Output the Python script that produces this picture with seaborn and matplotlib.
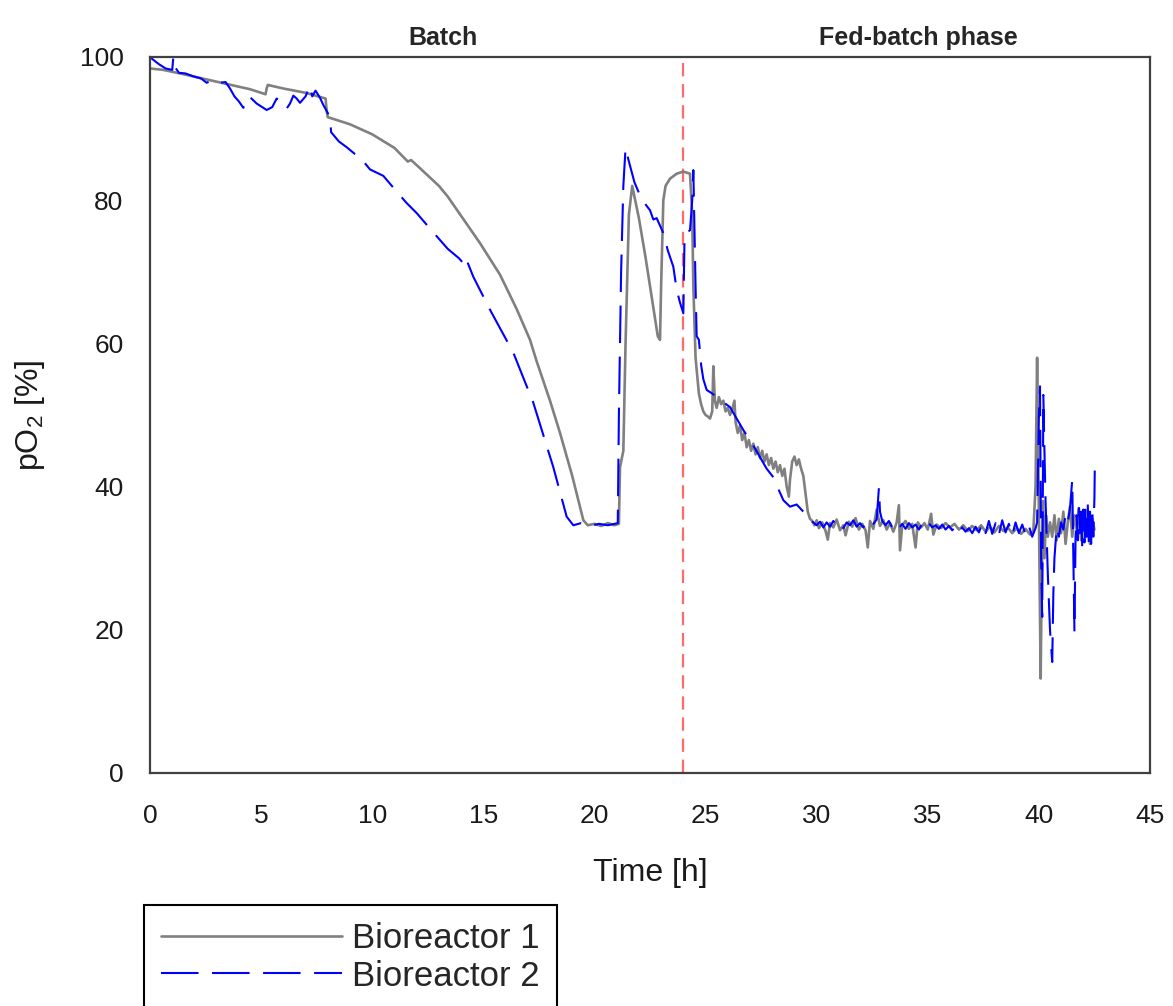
import matplotlib
matplotlib.use("Agg")
import matplotlib.pyplot as plt
import seaborn as sns
import pandas as pd

# ---- Bioreactor 1 (pO2 in %, time in h) ----
time_br1 = [
    0.0, 0.6, 1.5, 2.5, 3.5, 4.5, 5.2, 5.25, 5.3, 6.0, 7.0, 7.9, 7.95, 8.0,
    9.0, 10.0, 11.0, 11.6, 11.75, 12.0, 13.0, 13.4, 14.0, 14.85, 15.75, 16.5,
    17.1, 17.4, 18.0, 18.45, 19.0, 19.5, 19.7, 20.0, 20.3, 20.6, 20.9, 21.1,
    21.15, 21.3, 21.4, 21.55, 21.7, 22.0, 22.3, 22.6, 22.85, 22.95, 23.0, 23.1,
    23.2, 23.4, 23.7, 24.0, 24.3, 24.4, 24.45, 24.55, 24.7, 24.8, 24.9, 25.0,
    25.1, 25.2, 25.3, 25.35, 25.42, 25.5, 25.6, 25.7, 25.8, 25.9, 26.0, 26.1,
    26.2, 26.3, 26.35, 26.45, 26.55, 26.65, 26.75, 26.85, 26.95, 27.05, 27.15,
    27.25, 27.35, 27.45, 27.55, 27.65, 27.75, 27.85, 27.95, 28.05, 28.15,
    28.25, 28.35, 28.45, 28.55, 28.65, 28.75, 28.8, 28.9, 29.0, 29.1, 29.2,
    29.3, 29.4, 29.5, 29.6, 29.7, 29.8, 29.9, 30.0, 30.1, 30.25, 30.4, 30.5,
    30.6, 30.75, 30.9, 31.05, 31.2, 31.3, 31.45, 31.6, 31.75, 31.9, 32.05,
    32.2, 32.3, 32.4, 32.55, 32.7, 32.85, 33.0, 33.15, 33.3, 33.45, 33.6,
    33.7, 33.75, 33.85, 34.0, 34.15, 34.3, 34.45, 34.55, 34.7, 34.85, 35.0,
    35.15, 35.25, 35.4, 35.6, 35.8, 36.0, 36.2, 36.4, 36.6, 36.8, 37.0, 37.2,
    37.4, 37.6, 37.8, 38.0, 38.2, 38.4, 38.6, 38.8, 39.0, 39.2, 39.4, 39.6,
    39.75, 39.85, 39.92, 39.97, 40.02, 40.08, 40.12, 40.18, 40.25, 40.32,
    40.4, 40.5, 40.6, 40.7, 40.8, 40.9, 41.0, 41.1, 41.2, 41.3, 41.4, 41.5,
    41.6, 41.7, 41.8, 41.9, 42.0, 42.1, 42.2, 42.3, 42.4, 42.5,
]
po2_br1 = [
    98.4, 98.2, 97.6, 96.9, 96.2, 95.5, 94.8, 95.6, 96.1, 95.6, 95.0, 94.2, 92.5, 91.6,
    90.6, 89.2, 87.3, 85.4, 85.6, 84.9, 82.0, 80.5, 77.8, 74.0, 69.6, 64.8,
    60.5, 57.5, 52.0, 47.5, 41.5, 35.3, 34.6, 34.8, 34.5, 34.9, 34.6, 34.8,
    42.7, 45.0, 60.0, 78.0, 82.0, 77.5, 72.0, 66.0, 61.0, 60.5, 68.0, 80.0,
    82.0, 83.0, 83.7, 84.0, 83.7, 78.0, 68.0, 58.0, 53.0, 51.5, 50.5, 50.0,
    49.8, 49.5, 50.5, 56.8, 52.0, 51.0, 52.5, 51.5, 52.0, 50.5, 51.0, 50.0,
    50.8, 52.0, 49.0, 47.5, 48.5, 46.5, 47.5, 45.5, 46.5, 45.0, 46.0,
    44.5, 45.5, 44.0, 45.0, 43.5, 44.5, 43.0, 44.0, 42.5, 43.5,
    42.0, 43.0, 41.5, 42.5, 40.0, 38.6, 41.0, 43.5, 44.2, 43.0, 43.8,
    42.5, 41.5, 39.0, 36.5, 35.5, 35.2, 34.6, 35.3, 34.2, 35.0, 33.8, 32.6,
    34.9, 34.3, 35.4, 33.9, 34.6, 33.2, 35.1, 34.4, 35.6, 34.0, 34.8,
    33.9, 31.5, 35.2, 34.1, 36.8, 34.5, 35.3, 34.0, 34.9, 33.7, 35.0,
    37.4, 31.1, 34.6, 35.2, 34.1, 34.8, 31.5, 35.0, 34.3, 34.9, 34.0,
    36.2, 33.3, 34.7, 34.2, 34.9, 34.3, 34.8, 34.0, 34.6, 33.8, 34.5, 33.9,
    34.6, 33.7, 34.4, 33.6, 34.5, 33.8, 34.3, 33.5, 34.2, 33.4, 34.1, 33.3,
    33.8, 40.0, 58.0, 45.0, 30.0, 13.2, 25.0, 38.0, 30.0, 36.0,
    33.0, 35.0, 33.0, 36.0, 32.5, 35.5, 33.5, 36.5, 32.0, 35.0, 37.2, 33.0,
    36.0, 34.0, 37.0, 32.5, 35.5, 33.0, 36.5, 32.0, 35.5, 34.0,
]

# ---- Bioreactor 2 ----
time_br2 = [
    0.0, 0.15, 0.4, 0.7, 1.0, 1.05, 1.1, 1.3, 1.6, 1.95, 2.3, 2.55, 2.8, 3.15,
    3.4, 3.6, 3.8, 4.0, 4.2, 4.3, 4.5, 4.8, 5.0, 5.25, 5.5, 5.7, 5.9, 6.15,
    6.3, 6.45, 6.6, 6.75, 7.0, 7.2, 7.3, 7.45, 7.65, 7.8, 8.1, 8.15, 8.5,
    8.85, 9.2, 9.45, 9.9, 10.5, 11.1, 11.55, 12.0, 12.75, 13.4, 13.9, 14.1,
    14.2, 14.55, 15.3, 16.35, 17.25, 18.15, 18.75, 19.05, 19.4, 19.8, 20.2,
    20.6, 21.05, 21.1, 21.2, 21.3, 21.4, 21.5, 21.8, 22.1, 22.35, 22.5, 22.65,
    22.8, 23.1, 23.3, 23.55, 23.7, 23.85, 24.0, 24.05, 24.1, 24.3, 24.4,
    24.45, 24.5, 24.55, 24.6, 24.7, 24.8, 24.9, 25.05, 25.3, 25.5, 25.8,
    26.1, 26.4, 26.7, 27.1, 27.45, 27.75, 28.05, 28.3, 28.5, 28.8, 29.1,
    29.4, 29.6, 29.85, 30.0, 30.15, 30.3, 30.45, 30.6, 30.75, 30.9, 31.05,
    31.2, 31.35, 31.5, 31.65, 31.8, 31.95, 32.1, 32.25, 32.4, 32.55, 32.7,
    32.8, 32.85, 32.95, 33.1, 33.25, 33.4, 33.55, 33.7, 33.85, 34.0, 34.15,
    34.3, 34.45, 34.6, 34.75, 34.9, 35.05, 35.2, 35.35, 35.5, 35.65, 35.8,
    35.95, 36.1, 36.25, 36.4, 36.55, 36.7, 36.85, 37.0, 37.15, 37.3, 37.45,
    37.6, 37.75, 37.9, 38.05, 38.2, 38.35, 38.5, 38.65, 38.8, 38.95, 39.1,
    39.25, 39.4, 39.55, 39.7, 39.85, 39.92, 40.0, 40.05, 40.1, 40.15, 40.2,
    40.25, 40.3, 40.4, 40.5, 40.6, 40.65, 40.7, 40.8, 40.9, 41.0, 41.1, 41.2,
    41.3, 41.4, 41.5, 41.55, 41.6, 41.65, 41.7, 41.75, 41.8, 41.85, 41.9,
    41.95, 42.0, 42.05, 42.1, 42.15, 42.2, 42.25, 42.3, 42.35, 42.4, 42.45,
    42.5, 42.52,
]
po2_br2 = [
    100.0, 99.6, 99.0, 98.4, 98.2, 100.0, 98.7, 97.8, 97.7, 97.3, 97.0, 96.4, 96.8, 96.4,
    96.5, 95.6, 94.5, 93.8, 92.9, 94.2, 94.4, 93.5, 93.1, 92.6, 93.0, 94.2, 93.8, 92.8,
    93.5, 94.6, 94.2, 93.6, 94.5, 96.0, 94.5, 95.3, 94.3, 93.3, 91.6, 89.5, 88.2,
    87.4, 86.5, 86.0, 84.3, 83.4, 81.2, 79.6, 78.2, 75.5, 73.2, 71.9, 71.2,
    72.0, 69.3, 64.7, 58.7, 51.7, 42.7, 35.8, 34.6, 34.9, 34.5, 34.8,
    34.6, 34.9, 50.0, 70.0, 82.0, 87.3, 86.0, 82.5, 80.3, 79.2, 78.6, 77.3,
    77.5, 75.4, 73.0, 70.7, 67.5, 65.7, 64.2, 74.0, 75.4, 75.8, 80.0,
    84.2, 76.0, 68.0, 61.0, 60.5, 57.0, 55.0, 53.5, 53.0, 52.5, 51.8,
    51.1, 49.5, 47.9, 46.0, 44.1, 42.5, 41.3, 39.5, 38.1, 37.2, 37.5,
    36.5, 35.5, 35.0, 34.6, 35.1, 34.3, 35.0, 34.4, 35.2, 34.5, 34.9,
    34.2, 35.0, 34.6, 35.3, 34.4, 34.9, 34.3, 35.1, 34.5, 34.8, 35.4,
    39.8, 36.5, 35.2, 34.6, 35.2, 34.3, 34.9, 34.2, 34.8, 34.1, 34.9,
    34.3, 34.7, 34.0, 34.8, 34.2, 34.9, 34.3, 34.6, 34.1, 34.7, 34.0,
    34.5, 33.9, 34.4, 33.6, 34.3, 33.7, 34.2, 33.5, 34.4, 33.6, 34.8,
    33.5, 35.2, 33.4, 34.9, 33.3, 35.3, 33.6, 34.8, 33.2, 35.0, 33.5,
    34.7, 33.3, 34.5, 33.0, 34.2, 35.0, 50.0, 54.0, 30.0, 21.8, 52.8,
    45.0, 38.0, 28.0, 20.0, 15.5, 25.0, 30.0, 34.3, 33.0, 35.0, 34.0, 36.0,
    35.0, 37.0, 40.9, 30.0, 19.7, 33.0, 36.0, 32.5, 37.0, 33.5, 36.5,
    31.8, 36.8, 32.2, 37.2, 33.0, 37.5, 31.5, 36.5, 32.0, 37.0, 33.0,
    38.5, 44.0,
]

series_labels = ["Bioreactor 1", "Bioreactor 2"]
phase_labels = ["Batch", "Fed-batch phase"]
feed_start = 24.0
x_ticks = [0, 5, 10, 15, 20, 25, 30, 35, 40, 45]
y_ticks = [0, 20, 40, 60, 80, 100]

sns.set_style("white")
plt.rcParams["font.family"] = ["Liberation Sans", "DejaVu Sans"]
plt.rcParams["mathtext.fontset"] = "custom"
plt.rcParams["mathtext.rm"] = "Liberation Sans"

fig = plt.figure(figsize=(11.73, 10.06), dpi=100)
ax = fig.add_axes([150 / 1173, 1 - 773 / 1006, 1000 / 1173, 716 / 1006])

df1 = pd.DataFrame({"t": time_br1, "po2": po2_br1})
df2 = pd.DataFrame({"t": time_br2, "po2": po2_br2})

sns.lineplot(data=df1, x="t", y="po2", ax=ax, color="#808080", linewidth=1.9,
             estimator=None, sort=False, label=series_labels[0])
sns.lineplot(data=df2, x="t", y="po2", ax=ax, color="#0000FF", linewidth=1.5,
             estimator=None, sort=False, label=series_labels[1])
line_br1, line_br2 = ax.get_lines()[:2]
line_br2.set_dashes((18, 6.5))

# start of feeding
ax.axvline(feed_start, color="#FF6B6B", linewidth=1.6, dashes=(6, 3.5), zorder=1)

ax.set_xlim(0, 45)
ax.set_ylim(0, 100)
ax.set_xticks(x_ticks)
ax.set_yticks(y_ticks)
ax.tick_params(axis="both", direction="out", length=8, width=1.5,
               color="#404040", labelsize=19, labelcolor="#1a1a1a")
ax.tick_params(axis="x", pad=14)
ax.tick_params(axis="y", pad=11)
for side in ["left", "right", "top", "bottom"]:
    ax.spines[side].set_visible(True)
    ax.spines[side].set_color("#404040")
    ax.spines[side].set_linewidth(1.6)

ax.set_xlabel("Time [h]", fontsize=23, labelpad=22, color="#1a1a1a")
ax.set_ylabel(r"pO$_\mathregular{2}$ [%]", fontsize=23, color="#1a1a1a")
ax.yaxis.set_label_coords(-0.103, 0.5)

ax.text(13.2, 102.7, phase_labels[0], fontsize=18, fontweight="bold",
        ha="center", va="center", clip_on=False)
ax.text(34.56, 102.7, phase_labels[1], fontsize=18, fontweight="bold",
        ha="center", va="center", clip_on=False)

ax.get_legend().remove()
leg = fig.legend(handles=[line_br1, line_br2], labels=series_labels,
                 loc="upper left", bbox_to_anchor=(144 / 1173, 1 - 905 / 1006),
                 fontsize=25, frameon=True, fancybox=False, framealpha=1,
                 edgecolor="black", handlelength=5.2, handletextpad=0.3,
                 labelspacing=0.12, borderpad=0.5, borderaxespad=0)
leg.get_frame().set_linewidth(1.5)

fig.savefig("out.png", dpi=100)
